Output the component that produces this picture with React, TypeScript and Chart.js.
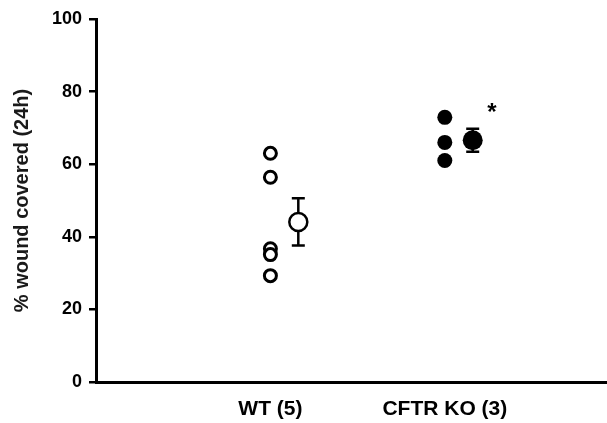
import React, { useEffect, useRef } from "react";
import { Chart, registerables } from "chart.js";

Chart.register(...registerables);

const categories = ["WT (5)", "CFTR KO (3)"];
const wtValues = [63, 56.4, 36.7, 35.1, 29.3];
const koValues = [72.9, 66, 61];
const groupMeans = [44.1, 66.6];
const groupSems = [6.5, 3.2];
const yTicks = [0, 20, 40, 60, 80, 100];
const yTitle = "% wound covered (24h)";
const sigLabel = "*";

const FONT = "'Liberation Sans', Arial, Helvetica, sans-serif";
const MEAN_SHIFT = 0.16;

const errorBarPlugin = {
  id: "errorBars",
  beforeDatasetsDraw(chart: any) {
    const { ctx, scales } = chart;
    const xs = scales.x;
    const ys = scales.y;
    ctx.save();
    ctx.strokeStyle = "#000";
    ctx.lineWidth = 2.5;
    groupMeans.forEach((m, i) => {
      const x = xs.getPixelForValue(i + 1 + MEAN_SHIFT);
      const yTop = ys.getPixelForValue(m + groupSems[i]);
      const yBot = ys.getPixelForValue(m - groupSems[i]);
      const cap = 6.5;
      ctx.beginPath();
      ctx.moveTo(x, yTop);
      ctx.lineTo(x, yBot);
      ctx.moveTo(x - cap, yTop);
      ctx.lineTo(x + cap, yTop);
      ctx.moveTo(x - cap, yBot);
      ctx.lineTo(x + cap, yBot);
      ctx.stroke();
    });
    ctx.restore();
  },
  afterDatasetsDraw(chart: any) {
    const { ctx, scales } = chart;
    const x = scales.x.getPixelForValue(2 + MEAN_SHIFT + 0.11);
    const y = scales.y.getPixelForValue(groupMeans[1] + groupSems[1] + 4.2);
    ctx.save();
    ctx.fillStyle = "#000";
    ctx.font = `bold 24px ${FONT}`;
    ctx.textAlign = "center";
    ctx.textBaseline = "middle";
    ctx.fillText(sigLabel, x, y);
    ctx.restore();
  },
};

export default function App() {
  const ref = useRef<HTMLCanvasElement>(null);
  useEffect(() => {
    if (!ref.current) return;
    const chart = new Chart(ref.current, {
      type: "scatter",
      data: {
        datasets: [
          {
            data: wtValues.map((v) => ({ x: 1, y: v })),
            pointRadius: 6,
            pointBorderWidth: 3,
            borderColor: "#000",
            backgroundColor: "#fff",
          },
          {
            data: koValues.map((v) => ({ x: 2, y: v })),
            pointRadius: 7.5,
            pointBorderWidth: 0,
            borderColor: "#000",
            backgroundColor: "#000",
          },
          {
            data: [{ x: 1 + MEAN_SHIFT, y: groupMeans[0] }],
            pointRadius: 9,
            pointBorderWidth: 2.5,
            borderColor: "#000",
            backgroundColor: "#fff",
          },
          {
            data: [{ x: 2 + MEAN_SHIFT, y: groupMeans[1] }],
            pointRadius: 10,
            pointBorderWidth: 0,
            borderColor: "#000",
            backgroundColor: "#000",
          },
        ],
      },
      options: {
        animation: false,
        responsive: true,
        maintainAspectRatio: false,
        layout: { autoPadding: false, padding: { top: 19, left: 0, right: 0, bottom: 0 } },
        plugins: { legend: { display: false }, tooltip: { enabled: false } },
        scales: {
          x: {
            type: "linear",
            min: 0,
            max: 2.93,
            afterBuildTicks: (scale: any) => {
              scale.ticks = categories.map((_, i) => ({ value: i + 1 }));
            },
            afterFit: (scale: any) => {
              scale.height = 41;
            },
            grid: { display: false },
            border: { display: true, color: "#000", width: 3 },
            ticks: {
              padding: 7,
              color: "#000",
              font: { family: FONT, size: 21, weight: "bold" },
              callback: (v: any) => categories[Math.round(Number(v)) - 1] ?? "",
              maxRotation: 0,
              autoSkip: false,
            },
          },
          y: {
            type: "linear",
            min: 0,
            max: 100,
            afterBuildTicks: (scale: any) => {
              scale.ticks = yTicks.map((v) => ({ value: v }));
            },
            afterFit: (scale: any) => {
              scale.width = 96;
            },
            grid: {
              display: true,
              drawOnChartArea: false,
              drawTicks: true,
              tickLength: 7,
              color: "#000",
              lineWidth: 2.5,
            },
            border: { display: true, color: "#000", width: 3 },
            ticks: {
              padding: 7,
              color: "#000",
              font: { family: FONT, size: 18, weight: "bold" },
            },
            title: {
              display: true,
              text: yTitle,
              color: "#1a1a1a",
              font: { family: FONT, size: 20, weight: "bold" },
              padding: { top: 10, bottom: 0 },
            },
          },
        },
      },
      plugins: [errorBarPlugin],
    });
    return () => chart.destroy();
  }, []);
  return (
    <div style={{ position: "fixed", left: 0, top: 0, width: 607, height: 423, background: "#fff" }}>
      <canvas ref={ref} />
    </div>
  );
}
